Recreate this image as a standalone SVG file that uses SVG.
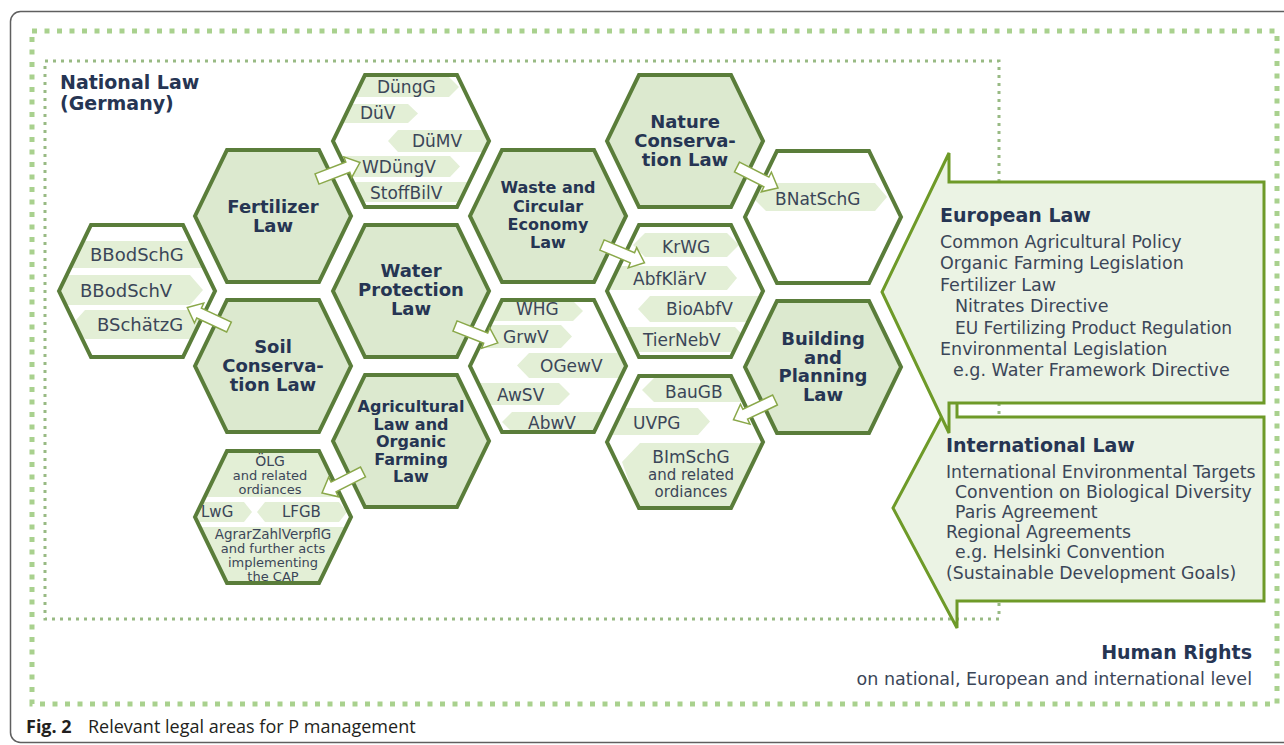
<svg xmlns="http://www.w3.org/2000/svg" width="1284" height="745" viewBox="0 0 1284 745">
<defs>
<style>
.frame{fill:none;stroke:#5f5f5f;stroke-width:1.5}
.dotO{fill:none;stroke:#a9d18e;stroke-width:5;stroke-dasharray:5 7.5}
.dotI{fill:none;stroke:#98ba83;stroke-width:3;stroke-dasharray:3 5}
.hg{fill:#dce9cf;stroke:#5a7d3a;stroke-width:4}
.hw{fill:none;stroke:#5a7d3a;stroke-width:4}
.bar{fill:#e3efd6}
.lbl{font-family:"DejaVu Sans",Verdana,sans-serif;font-weight:bold;font-size:18px;fill:#263553;text-anchor:middle}
.sub{font-family:"DejaVu Sans",Verdana,sans-serif;font-size:17px;fill:#3b4658}
.mid{text-anchor:middle}
.big{fill:#ebf3e4;stroke:#6e9a28;stroke-width:3}
.ttl{font-family:"DejaVu Sans",Verdana,sans-serif;font-weight:bold;font-size:19px;fill:#263553}
.txt{font-family:"DejaVu Sans",Verdana,sans-serif;font-size:17.5px;fill:#3b4658}
.conn{fill:#fff;stroke:#8aa84a;stroke-width:1.5}
.cap{font-family:"Open Sans","Noto Sans",sans-serif;font-size:18px;fill:#231f20}
.f13{font-size:13px}
.f135{font-size:13.5px}
.f14{font-size:14px}
.f15{font-size:15px}
.f16{font-size:16px}
.f17{font-size:17px}
.f173{font-size:17.3px}
.f18{font-size:18px}
</style>
<path id="ar" d="M0,-5.5 L33,-5.5 L33,-11 L46,0 L33,11 L33,5.5 L0,5.5 Z"/>
<clipPath id="cBBod"><polygon points="59,291 91,225 183,225 215,291 183,357 91,357"/></clipPath>
<clipPath id="cOLG"><polygon points="195,517 227,451 319,451 351,517 319,583 227,583"/></clipPath>
<clipPath id="cDung"><polygon points="333,141 365,75 457,75 489,141 457,207 365,207"/></clipPath>
<clipPath id="cWHG"><polygon points="470,366 502,300 594,300 626,366 594,432 502,432"/></clipPath>
<clipPath id="cKrWG"><polygon points="607,291 639,225 731,225 763,291 731,357 639,357"/></clipPath>
<clipPath id="cBau"><polygon points="607,442 639,376 731,376 763,442 731,508 639,508"/></clipPath>
<clipPath id="cBNat"><polygon points="745,217 777,151 869,151 901,217 869,283 777,283"/></clipPath>
</defs>

<rect class="frame" x="10.5" y="11.5" width="1300" height="731" rx="10"/>
<rect class="dotO" x="32" y="31" width="1245" height="673"/>
<rect class="dotI" x="45" y="61" width="954" height="558"/>

<g id="national-title">
<text class="ttl" x="60" y="89">National Law</text>
<text class="ttl" x="60" y="110">(Germany)</text>
</g>

<!-- main law hexagons -->
<g id="fertilizer-law">
<polygon class="hg" points="195,216 227,150 319,150 351,216 319,282 227,282"/>
<text class="lbl" x="273" y="212.5">Fertilizer</text>
<text class="lbl" x="273" y="231.5">Law</text>
</g>
<g id="soil-conservation-law">
<polygon class="hg" points="195,366 227,300 319,300 351,366 319,432 227,432"/>
<text class="lbl" x="273" y="353">Soil</text>
<text class="lbl" x="273" y="372">Conserva-</text>
<text class="lbl" x="273" y="391">tion Law</text>
</g>
<g id="water-protection-law">
<polygon class="hg" points="333,291 365,225 457,225 489,291 457,357 365,357"/>
<text class="lbl" x="411" y="277">Water</text>
<text class="lbl" x="411" y="296">Protection</text>
<text class="lbl" x="411" y="315">Law</text>
</g>
<g id="agricultural-law">
<polygon class="hg" points="333,441 365,375 457,375 489,441 457,507 365,507"/>
<text class="lbl f16" x="411" y="412">Agricultural</text>
<text class="lbl f16" x="411" y="429.5">Law and</text>
<text class="lbl f16" x="411" y="447">Organic</text>
<text class="lbl f16" x="411" y="464.5">Farming</text>
<text class="lbl f16" x="411" y="482">Law</text>
</g>
<g id="waste-law">
<polygon class="hg" points="470,216 502,150 594,150 626,216 594,282 502,282"/>
<text class="lbl f16" x="548" y="193">Waste and</text>
<text class="lbl f16" x="548" y="211.5">Circular</text>
<text class="lbl f16" x="548" y="230">Economy</text>
<text class="lbl f16" x="548" y="248">Law</text>
</g>
<g id="nature-conservation-law">
<polygon class="hg" points="607,141 639,75 731,75 763,141 731,207 639,207"/>
<text class="lbl" x="685" y="128">Nature</text>
<text class="lbl" x="685" y="147">Conserva-</text>
<text class="lbl" x="685" y="166">tion Law</text>
</g>
<g id="building-planning-law">
<polygon class="hg" points="745,367 777,301 869,301 901,367 869,433 777,433"/>
<text class="lbl" x="823" y="345">Building</text>
<text class="lbl" x="823" y="363.5">and</text>
<text class="lbl" x="823" y="382">Planning</text>
<text class="lbl" x="823" y="400.5">Law</text>
</g>

<!-- act hexagons -->
<g id="soil-acts">
<g clip-path="url(#cBBod)">
<polygon class="bar" points="40,241 240,241 240,268 40,268"/>
<polygon class="bar" points="40,275 190,275 203,290 190,305 40,305"/>
<polygon class="bar" points="72,324.5 85,310 240,310 240,339 85,339"/>
</g>
<polygon class="hw" points="59,291 91,225 183,225 215,291 183,357 91,357"/>
<text class="sub f18" x="90" y="261">BBodSchG</text>
<text class="sub f18" x="80" y="297">BBodSchV</text>
<text class="sub f18" x="97" y="331">BSchätzG</text>
</g>

<g id="fertilizer-acts">
<g clip-path="url(#cDung)">
<polygon class="bar" points="300,77 449,77 459,87 449,97 300,97"/>
<polygon class="bar" points="300,104 408,104 418,113.5 408,123 300,123"/>
<polygon class="bar" points="388,141 398,130 520,130 520,152 398,152"/>
<polygon class="bar" points="300,156 450,156 460,166.5 450,177 300,177"/>
<polygon class="bar" points="300,182 520,182 520,202 300,202"/>
</g>
<polygon class="hw" points="333,141 365,75 457,75 489,141 457,207 365,207"/>
<text class="sub" x="377" y="93">DüngG</text>
<text class="sub" x="360" y="119">DüV</text>
<text class="sub" x="412" y="147">DüMV</text>
<text class="sub" x="362" y="173">WDüngV</text>
<text class="sub" x="370" y="199">StoffBilV</text>
</g>

<g id="agricultural-acts">
<g clip-path="url(#cOLG)">
<polygon class="bar" points="150,452 400,452 400,497 150,497"/>
<polygon class="bar" points="150,502 244,502 252,512 244,522 150,522"/>
<polygon class="bar" points="257,512 265,502 339,502 347,512 339,522 265,522"/>
<polygon class="bar" points="150,527 400,527 400,590 150,590"/>
</g>
<polygon class="hw" points="195,517 227,451 319,451 351,517 319,583 227,583"/>
<text class="sub mid f14" x="270" y="465.5">ÖLG</text>
<text class="sub mid f13" x="270" y="479.5">and related</text>
<text class="sub mid f13" x="270" y="493.5">ordiances</text>
<text class="sub f15" x="201" y="517">LwG</text>
<text class="sub f15" x="282" y="517">LFGB</text>
<text class="sub mid f135" x="273" y="538.5">AgrarZahlVerpflG</text>
<text class="sub mid f13" x="273" y="553">and further acts</text>
<text class="sub mid f13" x="273" y="567">implementing</text>
<text class="sub mid f13" x="273" y="581">the CAP</text>
</g>

<g id="water-acts">
<g clip-path="url(#cWHG)">
<polygon class="bar" points="440,301 573,301 583,311 573,321 440,321"/>
<polygon class="bar" points="440,325 561,325 572,336.5 561,348 440,348"/>
<polygon class="bar" points="517,365.5 529,353 660,353 660,378 529,378"/>
<polygon class="bar" points="440,383 559,383 570,394 559,405 440,405"/>
<polygon class="bar" points="502,422 512,412 660,412 660,432 512,432"/>
</g>
<polygon class="hw" points="470,366 502,300 594,300 626,366 594,432 502,432"/>
<text class="sub" x="516" y="315">WHG</text>
<text class="sub" x="503" y="343">GrwV</text>
<text class="sub" x="540" y="372">OGewV</text>
<text class="sub" x="497" y="401">AwSV</text>
<text class="sub" x="528" y="429">AbwV</text>
</g>

<g id="waste-acts">
<g clip-path="url(#cKrWG)">
<polygon class="bar" points="633,245 645,233 727,233 739,245 727,257 645,257"/>
<polygon class="bar" points="580,266 727,266 737,278 727,290 580,290"/>
<polygon class="bar" points="638,309 650,296 800,296 800,322 650,322"/>
<polygon class="bar" points="580,327 735,327 747,339.5 735,352 580,352"/>
</g>
<polygon class="hw" points="607,291 639,225 731,225 763,291 731,357 639,357"/>
<text class="sub" x="662" y="253">KrWG</text>
<text class="sub" x="633" y="285">AbfKlärV</text>
<text class="sub" x="666" y="315">BioAbfV</text>
<text class="sub" x="643" y="346">TierNebV</text>
</g>

<g id="nature-acts">
<g clip-path="url(#cBNat)">
<polygon class="bar" points="752,197 766,183 875,183 887,197 875,211 766,211"/>
</g>
<polygon class="hw" points="745,217 777,151 869,151 901,217 869,283 777,283"/>
<text class="sub" x="775" y="205">BNatSchG</text>
</g>

<g id="building-acts">
<g clip-path="url(#cBau)">
<polygon class="bar" points="642,390 654,378 800,378 800,402 654,402"/>
<polygon class="bar" points="580,408 698,408 710,421.5 698,435 580,435"/>
<polygon class="bar" points="622,462 640,443 800,443 800,512 640,512"/>
</g>
<polygon class="hw" points="607,442 639,376 731,376 763,442 731,508 639,508"/>
<text class="sub" x="665" y="398">BauGB</text>
<text class="sub" x="633" y="429">UVPG</text>
<text class="sub mid" x="691" y="463">BImSchG</text>
<text class="sub mid f15" x="691" y="480">and related</text>
<text class="sub mid f15" x="691" y="497">ordiances</text>
</g>

<!-- connectors -->
<g id="connectors">
<use href="#ar" class="conn" transform="translate(317,179) rotate(-21)"/>
<use href="#ar" class="conn" transform="translate(229,327) rotate(-155)"/>
<use href="#ar" class="conn" transform="translate(455,326) rotate(21.6)"/>
<use href="#ar" class="conn" transform="translate(363,472) rotate(153)"/>
<use href="#ar" class="conn" transform="translate(602,245) rotate(22.7)"/>
<use href="#ar" class="conn" transform="translate(737,167) rotate(27)"/>
<use href="#ar" class="conn" transform="translate(775,400) rotate(154.5)"/>
</g>

<g id="international-law">
<polygon class="big" points="957,388 957,417 1264,417 1264,601 957,601 957,628 893,508"/>
<text class="ttl" x="946" y="452">International Law</text>
<text class="txt f173" x="946" y="478">International Environmental Targets</text>
<text class="txt f173" x="955" y="498">Convention on Biological Diversity</text>
<text class="txt f173" x="955" y="518">Paris Agreement</text>
<text class="txt f173" x="946" y="538">Regional Agreements</text>
<text class="txt f173" x="955" y="558">e.g. Helsinki Convention</text>
<text class="txt f173" x="946" y="579">(Sustainable Development Goals)</text>
</g>

<g id="european-law">
<polygon class="big" points="949,153 949,182 1264,182 1264,403 949,403 949,433 882,292"/>
<text class="ttl" x="940" y="222">European Law</text>
<text class="txt" x="940" y="248">Common Agricultural Policy</text>
<text class="txt" x="940" y="269">Organic Farming Legislation</text>
<text class="txt" x="940" y="291">Fertilizer Law</text>
<text class="txt" x="955" y="312">Nitrates Directive</text>
<text class="txt f17" x="955" y="334">EU Fertilizing Product Regulation</text>
<text class="txt" x="940" y="355">Environmental Legislation</text>
<text class="txt" x="953" y="376">e.g. Water Framework Directive</text>
</g>

<g id="human-rights">
<text class="ttl" x="1252" y="659" text-anchor="end">Human Rights</text>
<text class="txt" x="1252" y="685" text-anchor="end">on national, European and international level</text>
</g>

<g id="caption">
<text class="cap" x="26" y="733"><tspan font-weight="bold">Fig. 2</tspan><tspan x="88">Relevant legal areas for P management</tspan></text>
</g>
</svg>
